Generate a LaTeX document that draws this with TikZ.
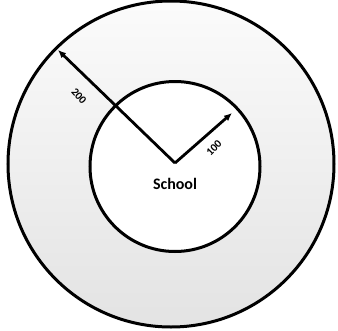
\documentclass[tikz,border=0pt]{standalone}
\usepackage{fontspec}
\setmainfont{Carlito}
\usetikzlibrary{arrows.meta}
\begin{document}
\begin{tikzpicture}[x=1pt,y=-1pt,
  ring/.style={line width=3pt},
  arr/.style={line width=2.8pt,-{Latex[length=8pt,width=7pt]}},
  lbl/.style={font=\bfseries\fontsize{11}{12}\selectfont,inner sep=0pt}]
\useasboundingbox (0,0) rectangle (338,330);
\fill[white] (0,0) rectangle (338,330);
\shade[top color=gray!3,bottom color=gray!22] (171,164) circle[radius=163];
\draw[ring] (171,164) circle[radius=163];
\node[ring,draw,fill=white,circle,minimum size=170pt,inner sep=0pt] (inner) at (175,166.5) {};
\coordinate (c) at (175,163);
\coordinate (t1) at (58,50);
\coordinate (t2) at (232,113);
\draw[arr] (c) -- (t1);
\draw[arr] (c) -- (t2);
\node[lbl,rotate=-48] (l200) at (79,96) {200};
\node[lbl,rotate=45] (l100) at (214,148) {100};
\node[font=\bfseries\fontsize{16}{18}\selectfont,inner sep=0pt] (school) at (175,184) {School};
\end{tikzpicture}
\end{document}
